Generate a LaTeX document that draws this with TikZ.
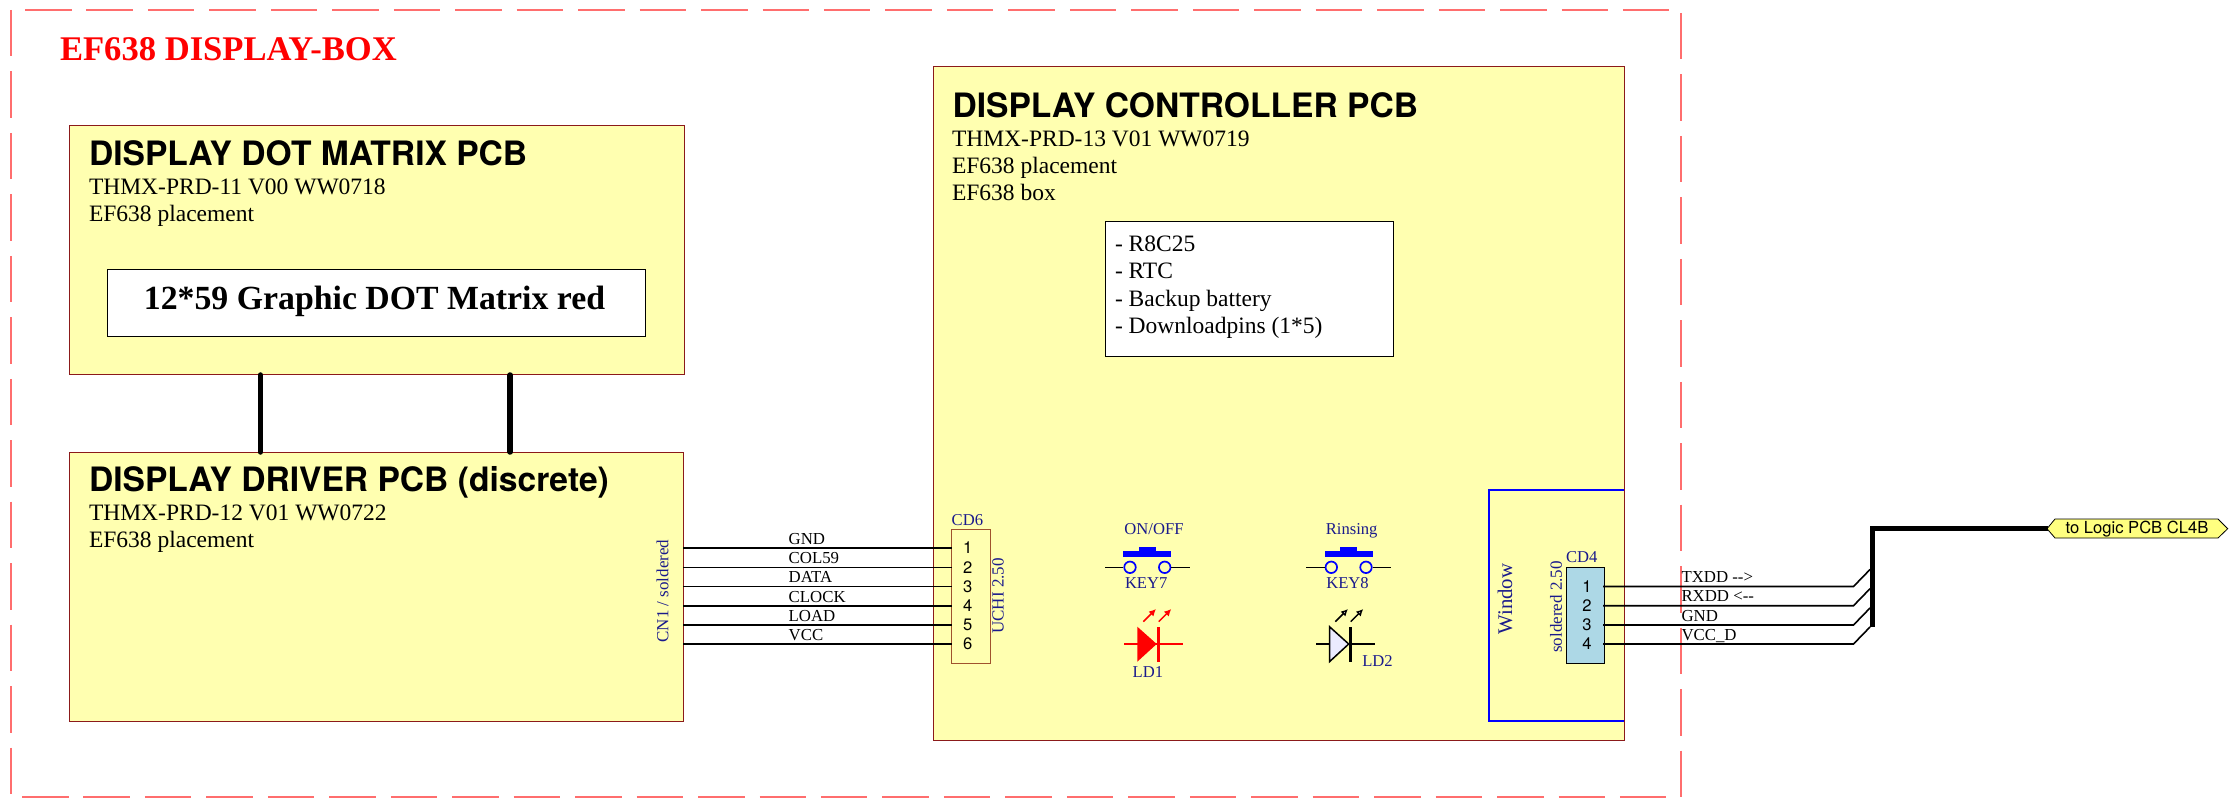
\documentclass[tikz,border=0pt]{standalone}
\usepackage{fontspec}
\setmainfont{Liberation Serif}
\setsansfont{TeX Gyre Heros}
\usetikzlibrary{arrows.meta}
\definecolor{pcbfill}{HTML}{FFFFB0}
\definecolor{pcbline}{HTML}{8B1A1A}
\definecolor{dashred}{HTML}{FF6E6E}
\definecolor{navy2}{HTML}{1A1A8C}
\definecolor{pinblue}{HTML}{ADD8E6}
\definecolor{connline}{HTML}{A0522D}
\definecolor{tagfill}{HTML}{FFFF80}
\newcommand{\fsz}[1]{\fontsize{#1}{#1}\selectfont}
\tikzset{
  x=1pt,y=-1pt,
  txt/.style={inner sep=0pt,outer sep=0pt,anchor=base west},
  pcb/.style={draw=pcbline,fill=pcbfill,line width=1pt,anchor=north west,inner sep=0pt,outer sep=0pt},
  whitebox/.style={draw=black,fill=white,line width=0.8pt,anchor=north west,inner sep=0pt,outer sep=0pt},
  title/.style={txt,font=\sffamily\bfseries\fsz{33.6}},
  sub/.style={txt,font=\rmfamily\fsz{23.5}},
  net/.style={txt,font=\rmfamily\fsz{16.8},text=black},
  ref/.style={txt,font=\rmfamily\fsz{16.6},text=navy2},
  refrot/.style={inner sep=0pt,outer sep=0pt,rotate=90,font=\rmfamily\fsz{17},text=navy2},
  pinno/.style={inner sep=0pt,outer sep=0pt,font=\sffamily\fsz{16.6}},
  wire/.style={line width=1.6pt,draw=black},
  bus/.style={line width=5pt,draw=black},
  link/.style={line width=5.5pt,draw=black,line cap=round},
  boxdash/.style={draw=dashred,line width=1.6pt,dash pattern=on 46.5pt off 14.96pt},
}
\begin{document}
\begin{tikzpicture}
\useasboundingbox (0,0) rectangle (2233,799);
% outer dashed box
\coordinate (bTa) at (25,10); \coordinate (bTb) at (1670,10);
\coordinate (bLa) at (11,10); \coordinate (bLb) at (11,794);
\coordinate (bBa) at (22,797); \coordinate (bBb) at (1667,797);
\coordinate (bRa) at (1681,13); \coordinate (bRb) at (1681,797);
\draw[boxdash] (bTa) -- (bTb);
\draw[boxdash] (bLa) -- (bLb);
\draw[boxdash] (bBa) -- (bBb);
\draw[boxdash] (bRa) -- (bRb);
\node[txt,font=\rmfamily\bfseries\fsz{34.6},text=red] (boxtitle) at (60,61) {EF638 DISPLAY-BOX};
% PCBs
\node[pcb,minimum width=615pt,minimum height=249.5pt] (dot) at (69,125.5) {};
\node[pcb,minimum width=614.5pt,minimum height=269pt] (drv) at (69,452) {};
\node[pcb,minimum width=691pt,minimum height=673pt] (ctl) at (933,67) {};
% dot matrix
\node[title] (t1) at (89,165.5) {DISPLAY DOT MATRIX PCB};
\node[sub] (s1a) at (89,195) {THMX-PRD-11 V00 WW0718};
\node[sub] (s1b) at (89,221.5) {EF638 placement};
\node[whitebox,minimum width=538pt,minimum height=67pt] (matrix) at (107,269) {};
\node[inner sep=0pt,anchor=base,font=\rmfamily\bfseries\fsz{33.8}] (mtxt) at (374.5,310) {12*59 Graphic DOT Matrix red};
% driver
\node[title] (t2) at (89,491.7) {DISPLAY DRIVER PCB (discrete)};
\node[sub] (s2a) at (89,520.7) {THMX-PRD-12 V01 WW0722};
\node[sub] (s2b) at (89,547.7) {EF638 placement};
\node[refrot] (cn1) at (662.5,591) {CN1 / soldered};
% thick links
\coordinate (lnkA) at (260.4,400); \coordinate (lnkB) at (510.2,400);
\draw[link] (dot.south -| lnkA) -- (drv.north -| lnkA);
\draw[link] (dot.south -| lnkB) -- (drv.north -| lnkB);
% controller
\node[title] (t3) at (952.5,117.5) {DISPLAY CONTROLLER PCB};
\node[sub] (s3a) at (952,146.7) {THMX-PRD-13 V01 WW0719};
\node[sub] (s3b) at (952,174) {EF638 placement};
\node[sub] (s3c) at (952,201) {EF638 box};
\node[whitebox,minimum width=287.6pt,minimum height=134.5pt] (mcu) at (1105.7,221.7) {};
\node[sub] (m1) at (1115,251.7) {- R8C25};
\node[sub] (m2) at (1115,279) {- RTC};
\node[sub] (m3) at (1115,306.7) {- Backup battery};
\node[sub] (m4) at (1115,333.3) {- Downloadpins (1*5)};
% CD6
\node[pcb,draw=connline,line width=1.2pt,minimum width=38.5pt,minimum height=134pt] (cd6) at (951.7,529.3) {};
\node[ref] (cd6l) at (951.7,525) {CD6};
\node[refrot] (cd6t) at (998,596) {UCHI 2.50};
\foreach \n/\y/\lab in {1/548/GND,2/567.3/COL59,3/586.5/DATA,4/605.7/CLOCK,5/625/LOAD,6/644/VCC}{
  \coordinate (cnp\n) at (683,\y);
  \node[pinno] (p6\n) at (967.7,\y) {\n};
  \draw[wire] (cnp\n) -- (cnp\n -| cd6.west);
  \node[net] (net6\n) at (788.7,\y-3.7) {\lab};
}
% switches
\foreach \k/\dx in {7/0,8/201.3}{
  \begin{scope}[xshift=\dx pt]
    \coordinate (k\k a) at (1105,567.3); \coordinate (k\k b) at (1190,567.3);
    \node[circle,draw=blue,line width=1.7pt,minimum size=11.5pt,inner sep=0pt] (k\k l) at (1130,567.3) {};
    \node[circle,draw=blue,line width=1.7pt,minimum size=11.5pt,inner sep=0pt] (k\k r) at (1164.7,567.3) {};
    \draw[wire] (k\k a) -- (k\k l);
    \draw[wire] (k\k r) -- (k\k b);
    \fill[blue] (1123.3,551) rectangle (1171.3,556.7);
    \fill[blue] (1139,547) rectangle (1156,551);
    \node[ref] (k\k t) at (1125,588.3) {KEY\k};
  \end{scope}
}
\node[ref,anchor=base] (onoff) at (1154,534) {ON/OFF};
\node[ref,anchor=base] (rins) at (1351.7,534) {Rinsing};
% LD1
\draw[line width=1.6pt,red] (1124,644) -- (1182.7,644);
\fill[red] (1137.3,626.7) -- (1156.7,644) -- (1137.3,661.7) -- cycle;
\fill[red] (1156.5,626.7) rectangle (1160,661.7);
\draw[red,line width=1.5pt,-{Latex[length=7pt,width=7pt]}] (1143.3,621.7) -- (1156,609);
\draw[red,line width=1.5pt,-{Latex[length=7pt,width=7pt]}] (1158.7,621.7) -- (1171.3,609);
\node[ref] (ld1) at (1132.7,677.3) {LD1};
% LD2
\draw[line width=1.6pt,black] (1316,644) -- (1374.7,644);
\filldraw[fill=white!92!blue,draw=black,line width=1.5pt] (1329.5,626.7) -- (1348.7,644) -- (1329.5,661.7) -- cycle;
\fill[black] (1348.5,626.7) rectangle (1352,661.7);
\draw[black,line width=1.5pt,-{Latex[length=7pt,width=7pt,open,fill=white]}] (1335.3,621.7) -- (1348,609);
\draw[black,line width=1.5pt,-{Latex[length=7pt,width=7pt,open,fill=white]}] (1350.7,621.7) -- (1363.3,609);
\node[ref] (ld2) at (1362.3,666.7) {LD2};
% window
\coordinate (winA) at (1624,490.3); \coordinate (winB) at (1624,720.7);
\draw[blue,line width=1.8pt] (winA) -- (1489,490.3) -- (1489,720.7) -- (winB);
\node[inner sep=0pt,rotate=90,font=\rmfamily\fsz{20.8},text=navy2] (winl) at (1505,599) {Window};
% CD4
\node[pcb,draw=black,line width=0.8pt,fill=pinblue,minimum width=38.3pt,minimum height=96pt] (cd4) at (1566,567.3) {};
\node[ref] (cd4l) at (1566,562.7) {CD4};
\node[refrot] (cd4t) at (1556,607) {soldered 2.50};
\coordinate (busTop) at (1872.3,528.7);
\coordinate (busBot) at (1872.3,627);
\foreach \n/\y/\lab in {1/586.5/TXDD -{}->,2/605.7/RXDD <{}-{}-,3/625/GND,4/644/VCC\_D}{
  \coordinate (cdp\n) at (1603,\y);
  \coordinate (bend\n) at (1853.5,\y);
  \coordinate (join\n) at (1870,\y-17);
  \node[pinno] (p4\n) at (1587,\y) {\n};
  \draw[wire] (cdp\n) -- (bend\n) -- (join\n);
  \node[net] (net4\n) at (1681.5,\y-3.8) {\lab};
}
% tag
\node[inner sep=0pt,outer sep=0pt,shape=coordinate] (tagL) at (2048,528.7) {};
\filldraw[fill=tagfill,draw=black,line width=0.8pt] (2047,528.7) -- (2055,519) -- (2218,519) -- (2227.7,528.7) -- (2218,538) -- (2055,538) -- cycle;
\node[pinno,text=black] (tagt) at (2137,528.7) {to Logic PCB CL4B};
\draw[bus,line join=miter] (busBot) -- (busTop) -- (tagL);
\end{tikzpicture}
\end{document}
